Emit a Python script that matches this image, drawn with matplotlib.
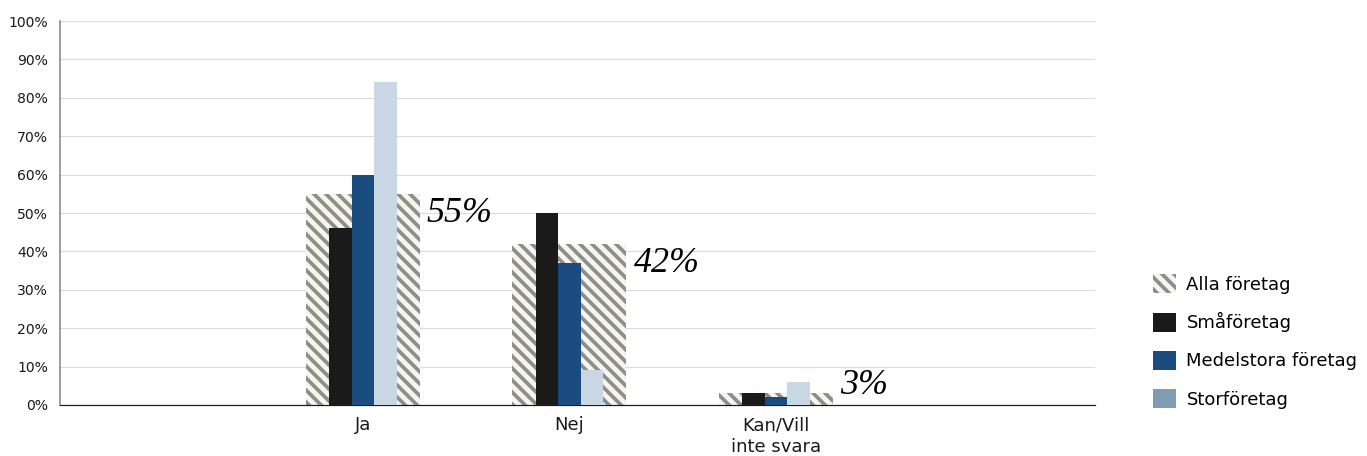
import matplotlib
matplotlib.use("Agg")
import matplotlib.pyplot as plt
import numpy as np
from matplotlib.patches import Patch

categories = ["Ja", "Nej", "Kan/Vill\ninte svara"]
alla = [55, 42, 3]
sma = [46, 50, 3]
medel = [60, 37, 2]
stor = [84, 9, 6]
series_names = ["Alla företag", "Småföretag", "Medelstora företag", "Storföretag"]
yticks = [0, 10, 20, 30, 40, 50, 60, 70, 80, 90, 100]

DPI = 72
W, H = 1367, 456
fig = plt.figure(figsize=(W / DPI, H / DPI), dpi=DPI)
ax = fig.add_axes([60 / W, (H - 405) / H, 1035 / W, 384 / H])

plt.rcParams['hatch.linewidth'] = 3.7
x = np.arange(len(categories))
c_gray, c_white = "#8e8e89", "#f6f5f0"
c_black, c_blue, c_light, c_leg_light = "#1a1a1a", "#1a4c7f", "#c9d7e5", "#7f9cb5"
FONT = "DejaVu Sans"

ax.bar(x, alla, width=0.552, facecolor=c_white, edgecolor=c_gray, hatch="\\\\", linewidth=0, zorder=2)
bw = 0.109
ax.bar(x - bw, sma, width=bw, color=c_black, zorder=3)
ax.bar(x, medel, width=bw, color=c_blue, zorder=3)
ax.bar(x + bw, stor, width=bw, color=c_light, zorder=3)

for xi, v in zip(x, alla):
    if v >= 10:
        ax.annotate(f"{v}%", (xi + 0.276, v), xytext=(7, -3), textcoords="offset points",
                    ha="left", va="top", fontsize=36, style="italic", family="Liberation Serif")
    else:
        ax.annotate(f"{v}%", (xi + 0.276, 0), xytext=(7, 11), textcoords="offset points",
                    ha="left", va="baseline", fontsize=36, style="italic", family="Liberation Serif")

ax.set_xlim(-1.467, 3.545)
ax.set_ylim(0, 100)
ax.set_yticks(yticks)
ax.set_yticklabels([f"{t}%" for t in yticks], fontsize=14, family=FONT, color="#1a1a1a")
ax.set_xticks(x)
ax.set_xticklabels(categories, fontsize=18, family=FONT, color="#1a1a1a", linespacing=1.3)
ax.tick_params(axis="both", length=0)
ax.tick_params(axis="y", pad=12)
ax.tick_params(axis="x", pad=11)
ax.yaxis.grid(True, color="#dcdcdc", linewidth=1.2, zorder=0)
ax.set_axisbelow(True)
for s in ["top", "right"]:
    ax.spines[s].set_visible(False)
ax.spines["left"].set_color("#808080")
ax.spines["left"].set_linewidth(1.5)
ax.spines["bottom"].set_color("#1a1a1a")
ax.spines["bottom"].set_linewidth(1.2)

handles = [
    Patch(facecolor=c_white, edgecolor=c_gray, hatch="\\\\", linewidth=0),
    Patch(facecolor=c_black),
    Patch(facecolor=c_blue),
    Patch(facecolor=c_leg_light),
]
leg = fig.legend(handles, series_names, loc="upper left", bbox_to_anchor=(1137 / W, 1 - 258 / H),
                 frameon=False, prop={"family": FONT, "size": 18}, handlelength=1.25, handleheight=1.25,
                 labelspacing=1.03, handletextpad=0.6)

fig.savefig("out.png", dpi=DPI)
